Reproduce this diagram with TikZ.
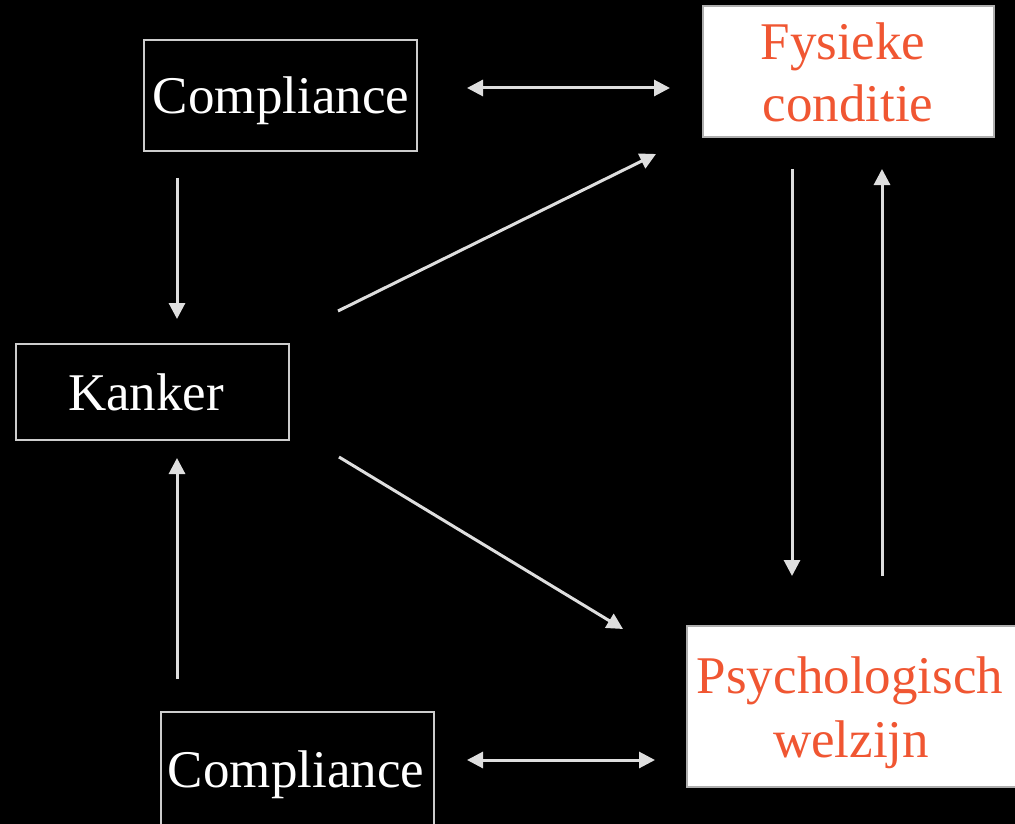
\documentclass[tikz,border=0pt]{standalone}
\usepackage{fontspec}
\setmainfont{Liberation Serif}
\usetikzlibrary{arrows.meta}
\definecolor{linegrey}{RGB}{222,222,222}
\definecolor{framegrey}{RGB}{205,205,205}
\definecolor{accent}{RGB}{240,86,50}
\begin{document}
\begin{tikzpicture}[x=1pt,y=-1pt,
  darkbox/.style={draw=framegrey,line width=2pt,fill=black,inner sep=0pt,
    minimum width=#1},
  lightbox/.style={draw=framegrey!85!black,line width=2pt,fill=white,inner sep=0pt},
  txt/.style={font=\fontsize{53}{63}\selectfont,inner sep=0pt,anchor=base},
  link/.style={draw=linegrey,line width=3pt,-{Triangle[length=16pt,width=16pt]}},
  duallink/.style={draw=linegrey,line width=3pt,{Triangle[length=16pt,width=16pt]}-{Triangle[length=16pt,width=16pt]}}]
  % background and page size
  \fill[black] (0,0) rectangle (1015,824);
  \useasboundingbox (0,0) rectangle (1015,824);

  % boxes
  \node[darkbox=273pt,minimum height=111pt] (ctop) at (280.5,95.5) {};
  \node[lightbox,minimum width=291pt,minimum height=131pt] (fys) at (848.5,71.5) {};
  \node[darkbox=273pt,minimum height=96pt] (kanker) at (152.5,392) {};
  \node[lightbox,minimum width=332pt,minimum height=161pt] (psych) at (853,706.5) {};
  \node[darkbox=273pt,minimum height=124pt] (cbot) at (297.5,774) {};

  % labels
  \node[txt,text=white] (tctop) at (281,114) {Compliance};
  \node[txt,text=accent] (tfys1) at (843,60) {Fysieke};
  \node[txt,text=accent] (tfys2) at (848,122) {conditie};
  \node[txt,text=white] (tkanker) at (146,410) {Kanker};
  \node[txt,text=accent] (tpsy1) at (850,693) {Psychologisch};
  \node[txt,text=accent] (tpsy2) at (851,757) {welzijn};
  \node[txt,text=white] (tcbot) at (296,787) {Compliance};

  % connectors
  \draw[duallink] ([shift={(49,-7.5)}]ctop.east) -- ([shift={(-32,16.5)}]fys.west);
  \draw[link] ([shift={(-103.5,26)}]ctop.south) -- ([shift={(24.5,-24)}]kanker.north);
  \draw[link] ([shift={(48,-32)}]kanker.north east) -- ([shift={(-46,16)}]fys.south west);
  \draw[link] ([shift={(49,16)}]kanker.south east) -- ([shift={(-63,4)}]psych.north west);
  \draw[link] ([shift={(-120.5,-32)}]cbot.north) -- ([shift={(24.5,17)}]kanker.south);
  \draw[link] ([shift={(-56.5,31)}]fys.south) -- ([shift={(-61,-49)}]psych.north);
  \draw[link] ([shift={(29,-49)}]psych.north) -- ([shift={(33.5,31)}]fys.south);
  \draw[duallink] ([shift={(32,-14)}]cbot.east) -- ([shift={(-31,53.5)}]psych.west);
\end{tikzpicture}
\end{document}
